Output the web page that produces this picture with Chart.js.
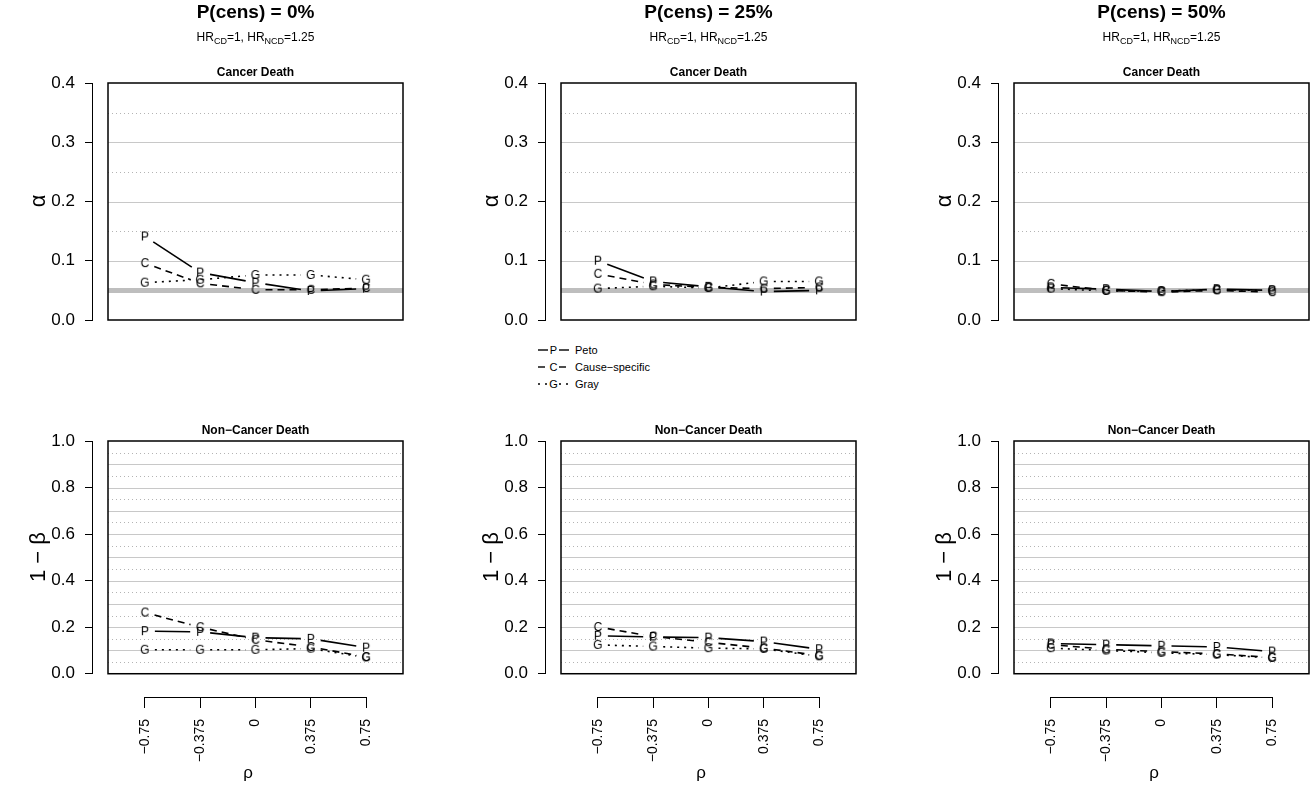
<!DOCTYPE html>
<html>
<head>
<meta charset="utf-8">
<script src="https://cdn.jsdelivr.net/npm/chart.js@4"></script>
<style>
  body { margin: 0; width: 1314px; height: 789px; background: #fff; position: relative; overflow: hidden;
         font-family: "Liberation Sans", Arial, sans-serif; color: #000; }
  canvas.panel { position: absolute; }
  .txt { position: absolute; transform: translate(-50%, -50%); white-space: nowrap; }
  .colTitle { font-weight: bold; font-size: 19px; }
  .colSub { font-size: 12px; }
  .colSub sub { font-size: 9px; vertical-align: -3px; line-height: 0; }
  .panelTitle { font-weight: bold; font-size: 12px; }
  .yTitle { transform: translate(-50%, -50%) rotate(-90deg); font-size: 22px; }
  .legend { position: absolute; left: 538px; top: 341px; font-size: 11px; }
  .legend div { height: 17px; display: flex; align-items: center; }
  .legend svg { margin-right: 5px; }
</style>
</head>
<body>
<div class="legend" id="legend"></div>
<script>
// ---- data ----
const rhoValues = [-0.75, -0.375, 0, 0.375, 0.75];
const censLabels = ["0%", "25%", "50%"];
const alphaTicks = [0, 0.1, 0.2, 0.3, 0.4];
const powerTicks = [0, 0.2, 0.4, 0.6, 0.8, 1.0];

// Cancer Death: type I error (alpha)
const alphaPeto0 = [0.141, 0.080, 0.063, 0.049, 0.053];
const alphaCause0 = [0.096, 0.062, 0.051, 0.051, 0.054];
const alphaGray0 = [0.063, 0.068, 0.076, 0.076, 0.068];
const alphaPeto25 = [0.100, 0.065, 0.056, 0.048, 0.050];
const alphaCause25 = [0.078, 0.060, 0.055, 0.053, 0.055];
const alphaGray25 = [0.053, 0.057, 0.054, 0.065, 0.065];
const alphaPeto50 = [0.055, 0.052, 0.048, 0.052, 0.050];
const alphaCause50 = [0.061, 0.050, 0.047, 0.050, 0.047];
const alphaGray50 = [0.053, 0.049, 0.049, 0.051, 0.050];

// Non-Cancer Death: power (1 - beta)
const powerPeto0 = [0.183, 0.180, 0.155, 0.150, 0.112];
const powerCause0 = [0.263, 0.200, 0.146, 0.115, 0.072];
const powerGray0 = [0.103, 0.103, 0.103, 0.108, 0.070];
const powerPeto25 = [0.163, 0.158, 0.155, 0.138, 0.105];
const powerCause25 = [0.201, 0.160, 0.135, 0.110, 0.078];
const powerGray25 = [0.124, 0.117, 0.110, 0.107, 0.075];
const powerPeto50 = [0.130, 0.125, 0.120, 0.115, 0.095];
const powerCause50 = [0.125, 0.105, 0.095, 0.085, 0.070];
const powerGray50 = [0.110, 0.100, 0.090, 0.082, 0.068];

// reference lines (abline) inside each panel
const alphaSolid = [0.1, 0.2, 0.3];
const alphaDotted = [0.15, 0.25, 0.35];
const alphaNominal = 0.05;
const powerSolid = [0.1, 0.2, 0.3, 0.4, 0.5, 0.6, 0.7, 0.8, 0.9];
const powerDotted = [0.05, 0.15, 0.25, 0.35, 0.45, 0.55, 0.65, 0.75, 0.85, 0.95];

const methodNames = ["Peto", "Cause\u2212specific", "Gray"];
const methodLetters = ["P", "C", "G"];
const methodDash = [[], [7, 5], [2, 5]];

const alphaSeries = [[alphaPeto0, alphaCause0, alphaGray0], [alphaPeto25, alphaCause25, alphaGray25], [alphaPeto50, alphaCause50, alphaGray50]];
const powerSeries = [[powerPeto0, powerCause0, powerGray0], [powerPeto25, powerCause25, powerGray25], [powerPeto50, powerCause50, powerGray50]];

const FONT = '"Liberation Sans", Arial, sans-serif';
Chart.defaults.font.family = FONT;
Chart.defaults.color = "#000";

class PanelCharts {

  static colStep = 453;
  static pxPerUnitX = 147.5;
  static gap = 10;

  // letter used as the point marker (R pch = "P")
  static letterImage(ch) {
    const c = document.createElement("canvas");
    c.width = 14; c.height = 16;
    const ctx = c.getContext("2d");
    ctx.font = "12px " + FONT;
    ctx.fillStyle = "#000";
    ctx.textAlign = "center";
    ctx.textBaseline = "alphabetic";
    ctx.fillText(ch, 7, 12.3);
    return c;
  }

  // grid lines, gapped series lines (type = "b"), box and axis lines
  static framePlugin = {
    id: "frame",
    beforeDatasetsDraw(chart) {
      const {ctx} = chart;
      const xs = chart.scales.x, ys = chart.scales.y;
      const opt = chart.options.plugins.frame;
      const x0 = xs.getPixelForValue(-1), x1 = xs.getPixelForValue(1);
      ctx.save();
      if (opt.nominal !== undefined) {
        ctx.strokeStyle = "#bebebe"; ctx.lineWidth = 5;
        const y = ys.getPixelForValue(opt.nominal);
        ctx.beginPath(); ctx.moveTo(x0, y); ctx.lineTo(x1, y); ctx.stroke();
      }
      ctx.lineWidth = 1;
      ctx.strokeStyle = "#c8c8c8";
      opt.solid.forEach(v => {
        const y = Math.round(ys.getPixelForValue(v)) + 0.5;
        ctx.beginPath(); ctx.moveTo(x0, y); ctx.lineTo(x1, y); ctx.stroke();
      });
      ctx.strokeStyle = "#b4b4b4";
      ctx.setLineDash([1, 3]);
      opt.dotted.forEach(v => {
        const y = Math.round(ys.getPixelForValue(v)) + 0.5;
        ctx.beginPath(); ctx.moveTo(x0, y); ctx.lineTo(x1, y); ctx.stroke();
      });
      ctx.restore();

      const gap = PanelCharts.gap;
      chart.data.datasets.forEach((ds, i) => {
        const pts = chart.getDatasetMeta(i).data;
        ctx.save();
        ctx.strokeStyle = "#000";
        ctx.lineWidth = ds.borderWidth;
        for (let k = 0; k < pts.length - 1; k++) {
          const a = pts[k], b = pts[k + 1];
          const dx = b.x - a.x, dy = b.y - a.y, len = Math.hypot(dx, dy);
          if (len <= 2 * gap) continue;
          const ux = dx / len, uy = dy / len;
          ctx.setLineDash(ds.borderDash);
          ctx.beginPath();
          ctx.moveTo(a.x + ux * gap, a.y + uy * gap);
          ctx.lineTo(b.x - ux * gap, b.y - uy * gap);
          ctx.stroke();
        }
        ctx.restore();
      });
    },
    afterDatasetsDraw(chart) {
      const {ctx, chartArea} = chart;
      const xs = chart.scales.x, ys = chart.scales.y;
      const opt = chart.options.plugins.frame;
      const yTicks = opt.yTicks;
      ctx.save();
      ctx.strokeStyle = "#000";
      ctx.lineWidth = 1.5;
      const bx0 = xs.getPixelForValue(-1), bx1 = xs.getPixelForValue(1);
      const by0 = ys.getPixelForValue(yTicks[yTicks.length - 1]), by1 = ys.getPixelForValue(0);
      ctx.strokeRect(bx0, by0, bx1 - bx0, by1 - by0);
      ctx.lineWidth = 1;
      const ax = Math.round(chartArea.left) - 0.5;
      ctx.beginPath();
      ctx.moveTo(ax, ys.getPixelForValue(yTicks[0]));
      ctx.lineTo(ax, ys.getPixelForValue(yTicks[yTicks.length - 1]));
      ctx.stroke();
      if (opt.xAxis) {
        const ay = Math.round(chartArea.bottom) + 0.5;
        ctx.beginPath();
        ctx.moveTo(xs.getPixelForValue(rhoValues[0]), ay);
        ctx.lineTo(xs.getPixelForValue(rhoValues[rhoValues.length - 1]), ay);
        ctx.stroke();
      }
      ctx.restore();
    }
  };

  static datasets(series) {
    return series.map((vals, m) => ({
      label: methodNames[m],
      data: rhoValues.map((r, i) => ({x: r, y: vals[i]})),
      showLine: false,
      borderWidth: 1.6,
      borderDash: methodDash[m],
      pointStyle: PanelCharts.letterImage(methodLetters[m]),
      pointRadius: 5
    }));
  }

  static makeCanvas(left, top, w, h) {
    const c = document.createElement("canvas");
    c.className = "panel";
    c.width = w; c.height = h;
    c.style.left = left + "px"; c.style.top = top + "px";
    document.body.appendChild(c);
    return c;
  }

  static yScale(min, max, ticks) {
    return {
      type: "linear", min, max,
      afterFit: s => { s.width = 93; },
      afterBuildTicks: s => { s.ticks = ticks.map(v => ({value: v})); },
      border: {display: false},
      grid: {drawOnChartArea: false, drawTicks: true, tickLength: 8, color: "#000"},
      ticks: {font: {size: 17}, padding: 10, callback: v => v.toFixed(1)}
    };
  }

  static drawTop(col) {
    const canvas = PanelCharts.makeCanvas(col * PanelCharts.colStep, 0, 408, 400);
    new Chart(canvas, {
      type: "scatter",
      data: {datasets: PanelCharts.datasets(alphaSeries[col])},
      options: {
        responsive: false, animation: false,
        layout: {autoPadding: false, padding: {top: 83, bottom: 80, left: 0, right: 5}},
        plugins: {
          legend: {display: false}, tooltip: {enabled: false},
          frame: {solid: alphaSolid, dotted: alphaDotted, nominal: alphaNominal, yTicks: alphaTicks, xAxis: false}
        },
        scales: {
          x: {type: "linear", display: false, min: -1 - 15 / PanelCharts.pxPerUnitX, max: 1},
          y: PanelCharts.yScale(0, 0.4, alphaTicks)
        }
      },
      plugins: [PanelCharts.framePlugin]
    });
  }

  static drawBottom(col) {
    const canvas = PanelCharts.makeCanvas(col * PanelCharts.colStep, 400, 408, 389);
    new Chart(canvas, {
      type: "scatter",
      data: {datasets: PanelCharts.datasets(powerSeries[col])},
      options: {
        responsive: false, animation: false,
        layout: {autoPadding: false, padding: {top: 41, bottom: 0, left: 0, right: 5}},
        plugins: {
          legend: {display: false}, tooltip: {enabled: false},
          frame: {solid: powerSolid, dotted: powerDotted, yTicks: powerTicks, xAxis: true}
        },
        scales: {
          x: {
            type: "linear", min: -1 - 15 / PanelCharts.pxPerUnitX, max: 1,
            afterFit: s => { s.height = 92; },
            afterBuildTicks: s => { s.ticks = rhoValues.map(v => ({value: v})); },
            border: {display: false},
            grid: {drawOnChartArea: false, drawTicks: true, tickLength: 11, color: "#000"},
            ticks: {
              font: {size: 14}, padding: 11, autoSkip: false, minRotation: 90, maxRotation: 90,
              callback: v => (v === 0 ? "0" : String(v).replace("-", "\u2212"))
            },
            title: {display: true, text: "\u03c1", font: {size: 17}, padding: {top: 0, bottom: 5}}
          },
          y: PanelCharts.yScale(-0.1, 1, powerTicks)
        }
      },
      plugins: [PanelCharts.framePlugin]
    });
  }

  static addText(cls, html, x, y) {
    const d = document.createElement("div");
    d.className = "txt " + cls;
    d.innerHTML = html;
    d.style.left = x + "px"; d.style.top = y + "px";
    document.body.appendChild(d);
  }

  static drawLegend() {
    const box = document.getElementById("legend");
    methodNames.forEach((name, m) => {
      const dash = methodDash[m].join(",") || "none";
      const row = document.createElement("div");
      row.innerHTML =
        `<svg width="32" height="14">` +
        `<line x1="0" y1="7" x2="10" y2="7" stroke="#000" stroke-width="1.4" stroke-dasharray="${dash}"/>` +
        `<line x1="21" y1="7" x2="31" y2="7" stroke="#000" stroke-width="1.4" stroke-dasharray="${dash}"/>` +
        `<text x="15.5" y="11" text-anchor="middle" font-size="11" font-family='${FONT}'>${methodLetters[m]}</text></svg>` +
        `<span>${name}</span>`;
      box.appendChild(row);
    });
  }
}

censLabels.forEach((lab, col) => {
  PanelCharts.drawTop(col);
  PanelCharts.drawBottom(col);
  const dx = col * PanelCharts.colStep;
  const cx = 255.5 + dx;
  PanelCharts.addText("colTitle", `P(cens) = ${lab}`, cx, 12);
  PanelCharts.addText("colSub", "HR<sub>CD</sub>=1, HR<sub>NCD</sub>=1.25", cx, 37);
  PanelCharts.addText("panelTitle", "Cancer Death", cx, 72);
  PanelCharts.addText("panelTitle", "Non\u2212Cancer Death", cx, 430);
  PanelCharts.addText("yTitle", "\u03b1", 38 + dx, 201);
  PanelCharts.addText("yTitle", "1 \u2212 \u03b2", 38 + dx, 557);
});
PanelCharts.drawLegend();
</script>
</body>
</html>
